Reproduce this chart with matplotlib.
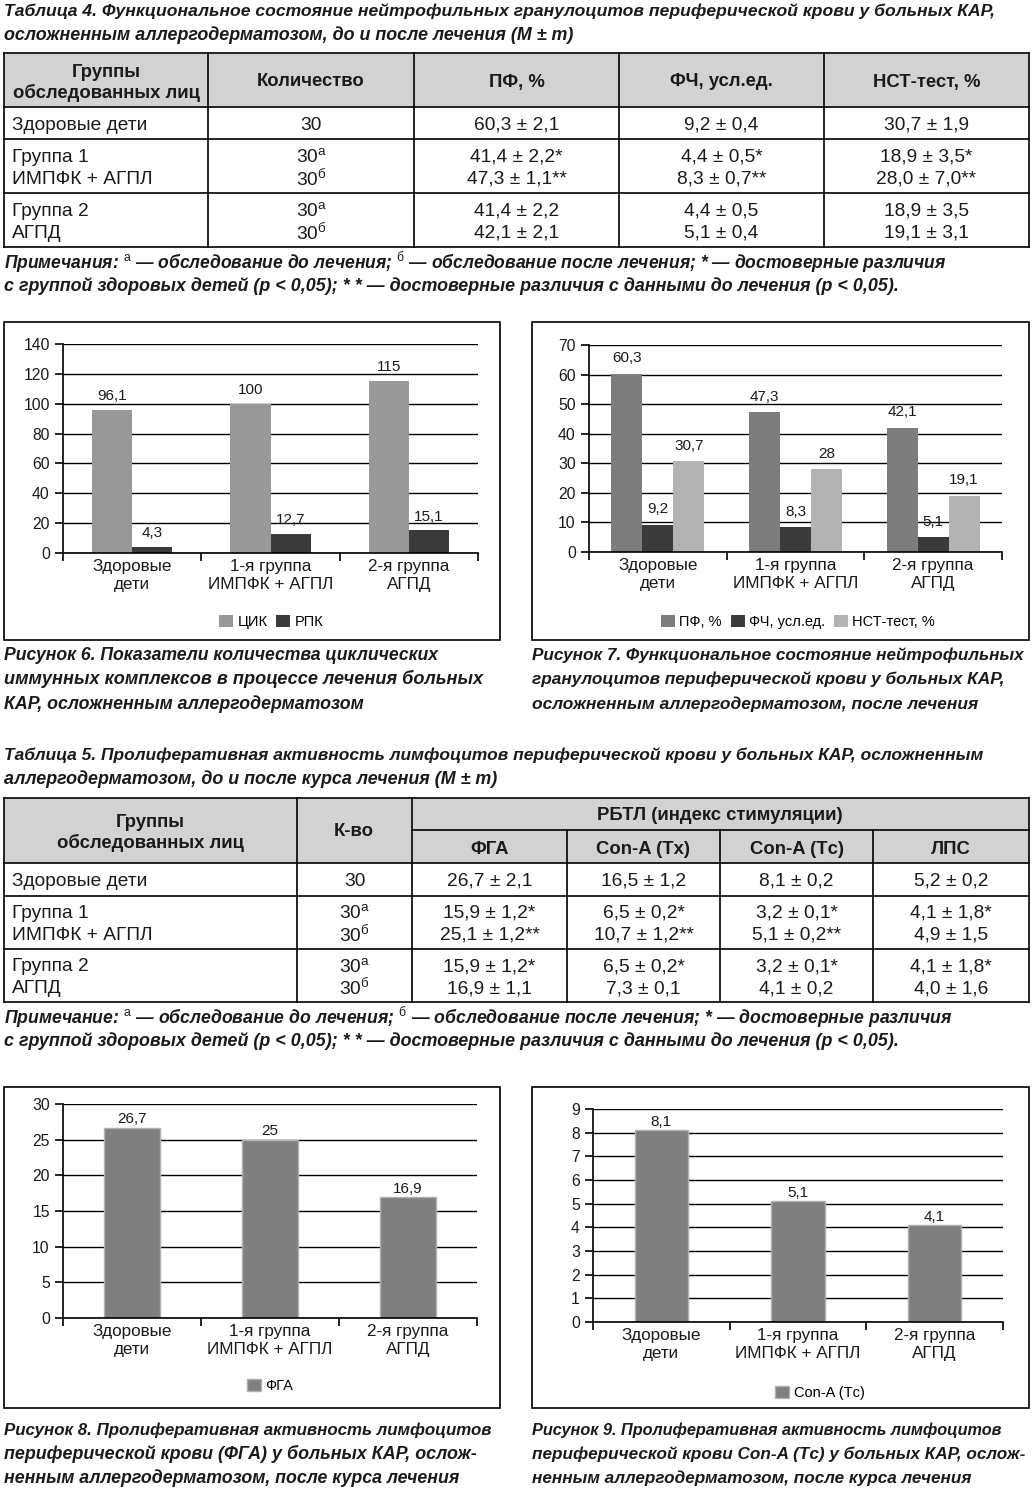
import numpy as np
import matplotlib.pyplot as plt
from matplotlib.patches import Rectangle

plt.rcParams['font.family'] = ['Liberation Sans', 'DejaVu Sans']
plt.rcParams['mathtext.fontset'] = 'custom'
plt.rcParams['mathtext.rm'] = 'Liberation Sans'
plt.rcParams['mathtext.it'] = 'Liberation Sans:italic'
plt.rcParams['mathtext.bf'] = 'Liberation Sans:bold'

W, H = 1033, 1490

# chart data
groups = ['Здоровые\nдети', '1-я группа\nИМПФК + АГПЛ', '2-я группа\nАГПД']
cik = [96.1, 100, 115]
rpk = [4.3, 12.7, 15.1]
pf = [60.3, 47.3, 42.1]
fch = [9.2, 8.3, 5.1]
nst = [30.7, 28, 19.1]
fga = [26.7, 25, 16.9]
con_tc = [8.1, 5.1, 4.1]

# table data
SUP_A = r'${}^{\mathrm{а}}$'
SUP_B = r'${}^{\mathrm{б}}$'
row_names = [['Здоровые дети'], ['Группа 1', 'ИМПФК + АГПЛ'], ['Группа 2', 'АГПД']]
counts = [['30'], ['30' + SUP_A, '30' + SUP_B], ['30' + SUP_A, '30' + SUP_B]]
t4_head = ['Количество', 'ПФ, %', 'ФЧ, усл.ед.', 'НСТ-тест, %']
t4_pf = [['60,3 ± 2,1'], ['41,4 ± 2,2*', '47,3 ± 1,1**'], ['41,4 ± 2,2', '42,1 ± 2,1']]
t4_fch = [['9,2 ± 0,4'], ['4,4 ± 0,5*', '8,3 ± 0,7**'], ['4,4 ± 0,5', '5,1 ± 0,4']]
t4_nst = [['30,7 ± 1,9'], ['18,9 ± 3,5*', '28,0 ± 7,0**'], ['18,9 ± 3,5', '19,1 ± 3,1']]
t5_head = ['ФГА', 'Con-A (Tх)', 'Con-A (Tс)', 'ЛПС']
t5_fga = [['26,7 ± 2,1'], ['15,9 ± 1,2*', '25,1 ± 1,2**'], ['15,9 ± 1,2*', '16,9 ± 1,1']]
t5_tx = [['16,5 ± 1,2'], ['6,5 ± 0,2*', '10,7 ± 1,2**'], ['6,5 ± 0,2*', '7,3 ± 0,1']]
t5_tc = [['8,1 ± 0,2'], ['3,2 ± 0,1*', '5,1 ± 0,2**'], ['3,2 ± 0,1*', '4,1 ± 0,2']]
t5_lps = [['5,2 ± 0,2'], ['4,1 ± 1,8*', '4,9 ± 1,5'], ['4,1 ± 1,8*', '4,0 ± 1,6']]

fig = plt.figure(figsize=(W / 100, H / 100), dpi=100)
bg = fig.add_axes([0, 0, 1, 1])
bg.set_xlim(0, W)
bg.set_ylim(H, 0)
bg.axis('off')
renderer = fig.canvas.get_renderer()

TXT = '#1a1a1a'


def bi_text(x, y, s, right, size=12.5):
    # bold italic line, scaled so that it ends where the printed line ends
    t = bg.text(x, y, s, fontsize=size, fontweight='bold', fontstyle='italic',
                va='center', ha='left', color=TXT)
    w = t.get_window_extent(renderer).width
    t.set_fontsize(size * (right - x) / w)


def cell_lines(xc, top, bot, lines, ha='center', size=13.8):
    yc = (top + bot) / 2 + 2
    n = len(lines)
    for i, s in enumerate(lines):
        bg.text(xc, yc + (i - (n - 1) / 2) * 22, s, fontsize=size, ha=ha, va='center', color=TXT)


def grid_lines(xs, ys, x_from, x_to, y_from, y_to):
    for y in ys:
        bg.plot([x_from, x_to], [y, y], color='black', lw=1.2)
    for x in xs:
        bg.plot([x, x], [y_from, y_to], color='black', lw=1.2)


HEAD = 13.3

# ---------- Table 4 ----------
bi_text(4, 11, 'Таблица 4. Функциональное состояние нейтрофильных гранулоцитов периферической крови у больных КАР,', 993)
bi_text(4, 35, 'осложненным аллергодерматозом, до и после лечения (M ± m)', 573)

xs4 = [4, 208, 414, 619, 824, 1029]
ys4 = [53, 107, 139, 193, 247]
bg.add_patch(Rectangle((4, 53), 1025, 54, fc='#d2d2d2', ec='none'))
grid_lines(xs4, ys4, 4, 1029, 53, 247)
bg.text(106, 83, 'Группы\nобследованных лиц', fontsize=HEAD, fontweight='bold', ha='center',
        va='center', color=TXT, linespacing=1.25)
for i, h in enumerate(t4_head):
    bg.text((xs4[i + 1] + xs4[i + 2]) / 2, 82, h, fontsize=HEAD, fontweight='bold',
            ha='center', va='center', color=TXT)
for r in range(3):
    top, bot = ys4[r + 1], ys4[r + 2]
    cell_lines(12, top, bot, row_names[r], ha='left')
    for c, col in enumerate([counts, t4_pf, t4_fch, t4_nst]):
        cell_lines((xs4[c + 1] + xs4[c + 2]) / 2, top, bot, col[r])

bi_text(4, 262, 'Примечания: ' + SUP_A + ' — обследование до лечения; ' + SUP_B + ' — обследование после лечения; * — достоверные различия', 951)
bi_text(4, 286, 'с группой здоровых детей (p < 0,05); * * — достоверные различия с данными до лечения (p < 0,05).', 903)

# ---------- Table 5 ----------
bi_text(4, 755, 'Таблица 5. Пролиферативная активность лимфоцитов периферической крови у больных КАР, осложненным', 988)
bi_text(4, 779, 'аллергодерматозом, до и после курса лечения (M ± m)', 497)

xs5 = [4, 297, 412, 567, 720, 873, 1029]
ys5 = [798, 863, 896, 949, 1002]
bg.add_patch(Rectangle((4, 798), 1025, 65, fc='#d2d2d2', ec='none'))
grid_lines([4, 297, 412, 1029], ys5, 4, 1029, 798, 1002)
for x in xs5[3:-1]:
    bg.plot([x, x], [830, 1002], color='black', lw=1.2)
bg.plot([412, 1029], [830, 830], color='black', lw=1.2)
bg.text(150, 833, 'Группы\nобследованных лиц', fontsize=HEAD, fontweight='bold', ha='center',
        va='center', color=TXT, linespacing=1.25)
bg.text(354, 832, 'К-во', fontsize=HEAD, fontweight='bold', ha='center', va='center', color=TXT)
bg.text(720, 816, 'РБТЛ (индекс стимуляции)', fontsize=HEAD, fontweight='bold',
        ha='center', va='center', color=TXT)
for i, h in enumerate(t5_head):
    bg.text((xs5[i + 2] + xs5[i + 3]) / 2, 849, h, fontsize=HEAD, fontweight='bold',
            ha='center', va='center', color=TXT)
for r in range(3):
    top, bot = ys5[r + 1], ys5[r + 2]
    cell_lines(12, top, bot, row_names[r], ha='left')
    for c, col in enumerate([counts, t5_fga, t5_tx, t5_tc, t5_lps]):
        cell_lines((xs5[c + 1] + xs5[c + 2]) / 2, top, bot, col[r])

bi_text(4, 1017, 'Примечание: ' + SUP_A + ' — обследование до лечения; ' + SUP_B + ' — обследование после лечения; * — достоверные различия', 951)
bi_text(4, 1041, 'с группой здоровых детей (p < 0,05); * * — достоверные различия с данными до лечения (p < 0,05).', 903)


# ---------- charts ----------
def chart(box, area, series, names, colors, ymax, step, width, pad, leg_xy, edge=None):
    bg.add_patch(Rectangle((box[0], box[1]), box[2] - box[0], box[3] - box[1],
                           fc='none', ec='black', lw=1.2))
    x0, y0, x1, y1 = area
    ax = fig.add_axes([x0 / W, 1 - y1 / H, (x1 - x0) / W, (y1 - y0) / H])
    pos = np.arange(len(groups))
    n = len(series)
    for i, (vals, c, nm) in enumerate(zip(series, colors, names)):
        bars = ax.bar(pos + (i - (n - 1) / 2) * width, vals, width, color=c,
                      edgecolor=edge if edge else c, lw=1 if edge else 0, label=nm)
        for rect, v in zip(bars, vals):
            ax.annotate(f'{v:g}'.replace('.', ','),
                        (rect.get_x() + rect.get_width() / 2, v),
                        xytext=(0, pad), textcoords='offset points',
                        ha='center', va='bottom', fontsize=11, color=TXT)
    ax.set_xlim(-0.5, 2.5)
    ax.set_ylim(0, ymax)
    ax.set_yticks(np.arange(0, ymax + step / 2, step))
    ax.yaxis.grid(True, color='black', lw=1)
    ax.set_axisbelow(True)
    ax.set_facecolor('none')
    for s in ['top', 'right']:
        ax.spines[s].set_visible(False)
    ax.spines['left'].set_linewidth(1.2)
    ax.spines['bottom'].set_linewidth(1.2)
    ax.set_xticks([-0.5, 0.5, 1.5, 2.5])
    ax.set_xticklabels([])
    ax.set_xticks(pos, minor=True)
    ax.set_xticklabels(groups, minor=True, fontsize=12.3, linespacing=1.3, color=TXT)
    ax.tick_params(axis='x', which='minor', length=0, pad=4)
    ax.tick_params(axis='x', which='major', length=6, width=1.2)
    ax.tick_params(axis='y', length=6, width=1.2, labelsize=11.3, labelcolor=TXT)
    ax.legend(loc='center', bbox_to_anchor=(leg_xy[0] / W, 1 - leg_xy[1] / H),
              bbox_transform=fig.transFigure, ncol=n, frameon=False, fontsize=10.5,
              handlelength=0.95, handleheight=0.95, handletextpad=0.3, columnspacing=0.6)
    return ax


chart((4, 322, 500, 640), (63, 344, 478, 553), [cik, rpk], ['ЦИК', 'РПК'],
      ['#989898', '#3b3b3b'], 140, 20, 0.29, 5, (271, 622))
chart((532, 322, 1029, 640), (589, 345, 1002, 552), [pf, fch, nst],
      ['ПФ, %', 'ФЧ, усл.ед.', 'НСТ-тест, %'], ['#7d7d7d', '#3b3b3b', '#b3b3b3'],
      70, 10, 0.225, 6, (798, 622))
chart((4, 1087, 500, 1408), (63, 1104, 477, 1318), [fga], ['ФГА'],
      ['#7f7f7f'], 30, 5, 0.4, 1, (270, 1386), edge='#b0b0b0')
chart((532, 1087, 1029, 1408), (593, 1109, 1003, 1322), [con_tc], ['Con-A (Tс)'],
      ['#7f7f7f'], 9, 1, 0.39, 1, (820, 1393), edge='#b0b0b0')

bi_text(4, 655, 'Рисунок 6. Показатели количества циклических', 440)
bi_text(4, 679, 'иммунных комплексов в процессе лечения больных', 483)
bi_text(4, 704, 'КАР, осложненным аллергодерматозом', 364)
bi_text(532, 655, 'Рисунок 7. Функциональное состояние нейтрофильных', 1023)
bi_text(532, 679, 'гранулоцитов периферической крови у больных КАР,', 1005)
bi_text(532, 704, 'осложненным аллергодерматозом, после лечения', 979)
bi_text(4, 1430, 'Рисунок 8. Пролиферативная активность лимфоцитов', 493)
bi_text(4, 1454, 'периферической крови (ФГА) у больных КАР, ослож-', 477)
bi_text(4, 1478, 'ненным аллергодерматозом, после курса лечения', 461)
bi_text(532, 1430, 'Рисунок 9. Пролиферативная активность лимфоцитов', 1003)
bi_text(532, 1454, 'периферической крови Con-A (Tс) у больных КАР, ослож-', 1024)
bi_text(532, 1478, 'ненным аллергодерматозом, после курса лечения', 972)

fig.savefig('out.png', dpi=100)
